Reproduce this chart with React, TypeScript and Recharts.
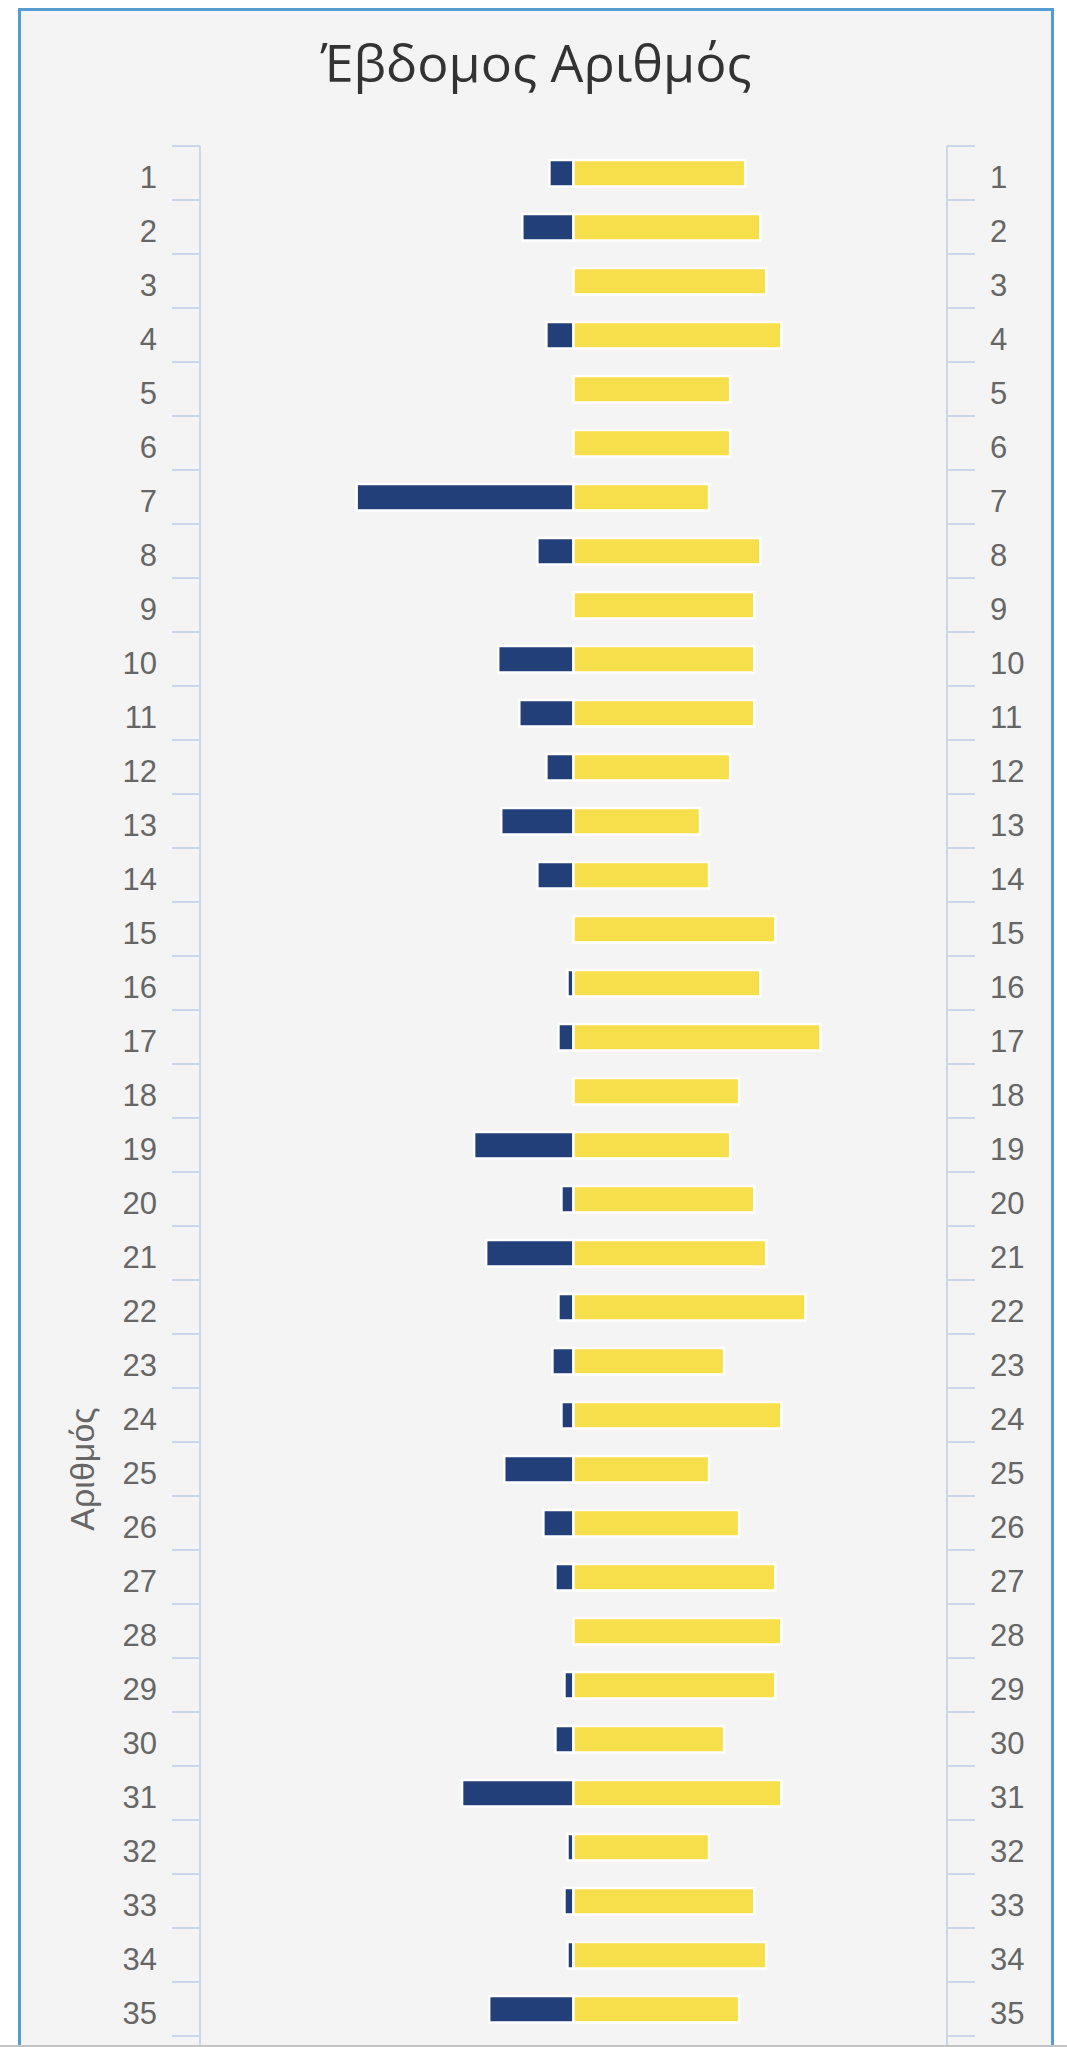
import React from 'react';
import { BarChart, Bar, XAxis, YAxis, CartesianGrid, Label } from 'recharts';

// Visible categories (numbers 1..35 of the draw)
const numbers = [
  '1', '2', '3', '4', '5', '6', '7', '8', '9', '10',
  '11', '12', '13', '14', '15', '16', '17', '18', '19', '20',
  '21', '22', '23', '24', '25', '26', '27', '28', '29', '30',
  '31', '32', '33', '34', '35',
];

// Right-hand (yellow) series values
const yellowValues = [
  57, 62, 64, 69, 52, 52, 45, 62, 60, 60,
  60, 52, 42, 45, 67, 62, 82, 55, 52, 60,
  64, 77, 50, 69, 45, 55, 67, 69, 67, 50,
  69, 45, 60, 64, 55,
];

// Left-hand (blue) series magnitudes (drawn to the left of zero)
const blueValues = [
  8, 17, 0, 9, 0, 0, 72, 12, 0, 25,
  18, 9, 24, 12, 0, 2, 5, 0, 33, 4,
  29, 5, 7, 4, 23, 10, 6, 0, 3, 6,
  37, 2, 3, 2, 28,
];

const valueTicks = [-124, -62, 0, 62, 124];
const TOTAL_CATEGORIES = 49; // full axis length (chart continues below the viewport)

const data = numbers.map((n, i) => ({
  n,
  blue: -blueValues[i],
  yellow: yellowValues[i],
}));

// layout constants (chart coordinates)
const ROW_H = 54;
const PLOT_TOP = 135;
const AXIS_W = 100;
const PLOT_LEFT = 179;
const CHART_W = 1030;
const PLOT_RIGHT = 926;
const PAD_BOTTOM = 20;
const CHART_H = PLOT_TOP + numbers.length * ROW_H + PAD_BOTTOM;

const AXIS_COLOR = '#ccd6eb';
const LABEL_COLOR = '#666666';
const LABEL_FONT = '"Liberation Sans", Arial, sans-serif';
const TICK_LEN = 28;
const LABEL_GAP = 43;

function makeTick(side: 'left' | 'right') {
  return function Tick(props: any) {
    const { x, y, payload } = props;
    const idx = numbers.indexOf(String(payload.value));
    const isLast = idx === numbers.length - 1;
    const dir = side === 'left' ? -1 : 1;
    return (
      <g>
        <line
          x1={x}
          x2={x + dir * TICK_LEN}
          y1={y - ROW_H / 2}
          y2={y - ROW_H / 2}
          stroke={AXIS_COLOR}
          strokeWidth={2}
        />
        {isLast && (
          <line
            x1={x}
            x2={x + dir * TICK_LEN}
            y1={y + ROW_H / 2}
            y2={y + ROW_H / 2}
            stroke={AXIS_COLOR}
            strokeWidth={2}
          />
        )}
        <text
          x={x + dir * LABEL_GAP}
          y={y}
          dy={15}
          textAnchor={side === 'left' ? 'end' : 'start'}
          fill={LABEL_COLOR}
          fontSize={31}
          fontFamily={LABEL_FONT}
        >
          {payload.value}
        </text>
      </g>
    );
  };
}

const LeftTick = makeTick('left');
const RightTick = makeTick('right');

function AxisTitle(props: any) {
  const cx = PLOT_LEFT - 118;
  const cy = PLOT_TOP + (TOTAL_CATEGORIES * ROW_H) / 2;
  return (
    <text
      x={cx}
      y={cy}
      transform={`rotate(-90, ${cx}, ${cy})`}
      textAnchor="middle"
      dominantBaseline="central"
      fill={LABEL_COLOR}
      fontSize={34}
      fontFamily={LABEL_FONT}
    >
      Αριθμός
    </text>
  );
}

export default function App() {
  return (
    <div
      style={{
        position: 'absolute',
        left: 0,
        top: 0,
        width: 1067,
        height: 2047,
        overflow: 'hidden',
        background: '#ffffff',
        boxSizing: 'border-box',
        borderBottom: '2px solid #c4c4c4',
      }}
    >
      <div
        style={{
          position: 'absolute',
          left: 18,
          top: 8,
          width: 1036,
          height: 2200,
          boxSizing: 'border-box',
          border: '3px solid #569cd0',
          background: '#f4f4f4',
        }}
      >
        <div
          style={{
            position: 'absolute',
            left: 0,
            right: 0,
            top: 25,
            textAlign: 'center',
            fontFamily: '"Open Sans", sans-serif',
            fontSize: 52,
            lineHeight: '52px',
            color: '#333333',
          }}
        >
          Έβδομος Αριθμός
        </div>
        <div style={{ position: 'absolute', left: 0, top: 0 }}>
          <BarChart
            width={CHART_W}
            height={CHART_H}
            data={data}
            layout="vertical"
            stackOffset="sign"
            margin={{
              top: PLOT_TOP,
              left: PLOT_LEFT - AXIS_W,
              right: CHART_W - PLOT_RIGHT - AXIS_W,
              bottom: 0,
            }}
          >
            <CartesianGrid
              horizontal={false}
              vertical={true}
              stroke="#e6e6e6"
              strokeWidth={2}
            />
            <XAxis
              type="number"
              domain={[-124, 124]}
              ticks={valueTicks}
              allowDataOverflow
              height={0}
              tick={false}
              axisLine={false}
              tickLine={false}
            />
            <YAxis
              yAxisId="left"
              type="category"
              dataKey="n"
              orientation="left"
              width={AXIS_W}
              padding={{ top: 0, bottom: PAD_BOTTOM }}
              axisLine={{ stroke: AXIS_COLOR, strokeWidth: 2 }}
              tickLine={false}
              tickSize={0}
              tickMargin={0}
              tick={LeftTick}
              interval={0}
            >
              <Label content={AxisTitle} />
            </YAxis>
            <YAxis
              yAxisId="right"
              type="category"
              dataKey="n"
              orientation="right"
              width={AXIS_W}
              padding={{ top: 0, bottom: PAD_BOTTOM }}
              axisLine={{ stroke: AXIS_COLOR, strokeWidth: 2 }}
              tickLine={false}
              tickSize={0}
              tickMargin={0}
              tick={RightTick}
              interval={0}
            />
            <Bar
              yAxisId="left"
              dataKey="blue"
              stackId="s"
              fill="#233f7a"
              stroke="#ffffff"
              strokeWidth={2.5}
              barSize={26.5}
              isAnimationActive={false}
            />
            <Bar
              yAxisId="left"
              dataKey="yellow"
              stackId="s"
              fill="#f6df4a"
              stroke="#ffffff"
              strokeWidth={2.5}
              barSize={26.5}
              isAnimationActive={false}
            />
          </BarChart>
        </div>
      </div>
    </div>
  );
}
